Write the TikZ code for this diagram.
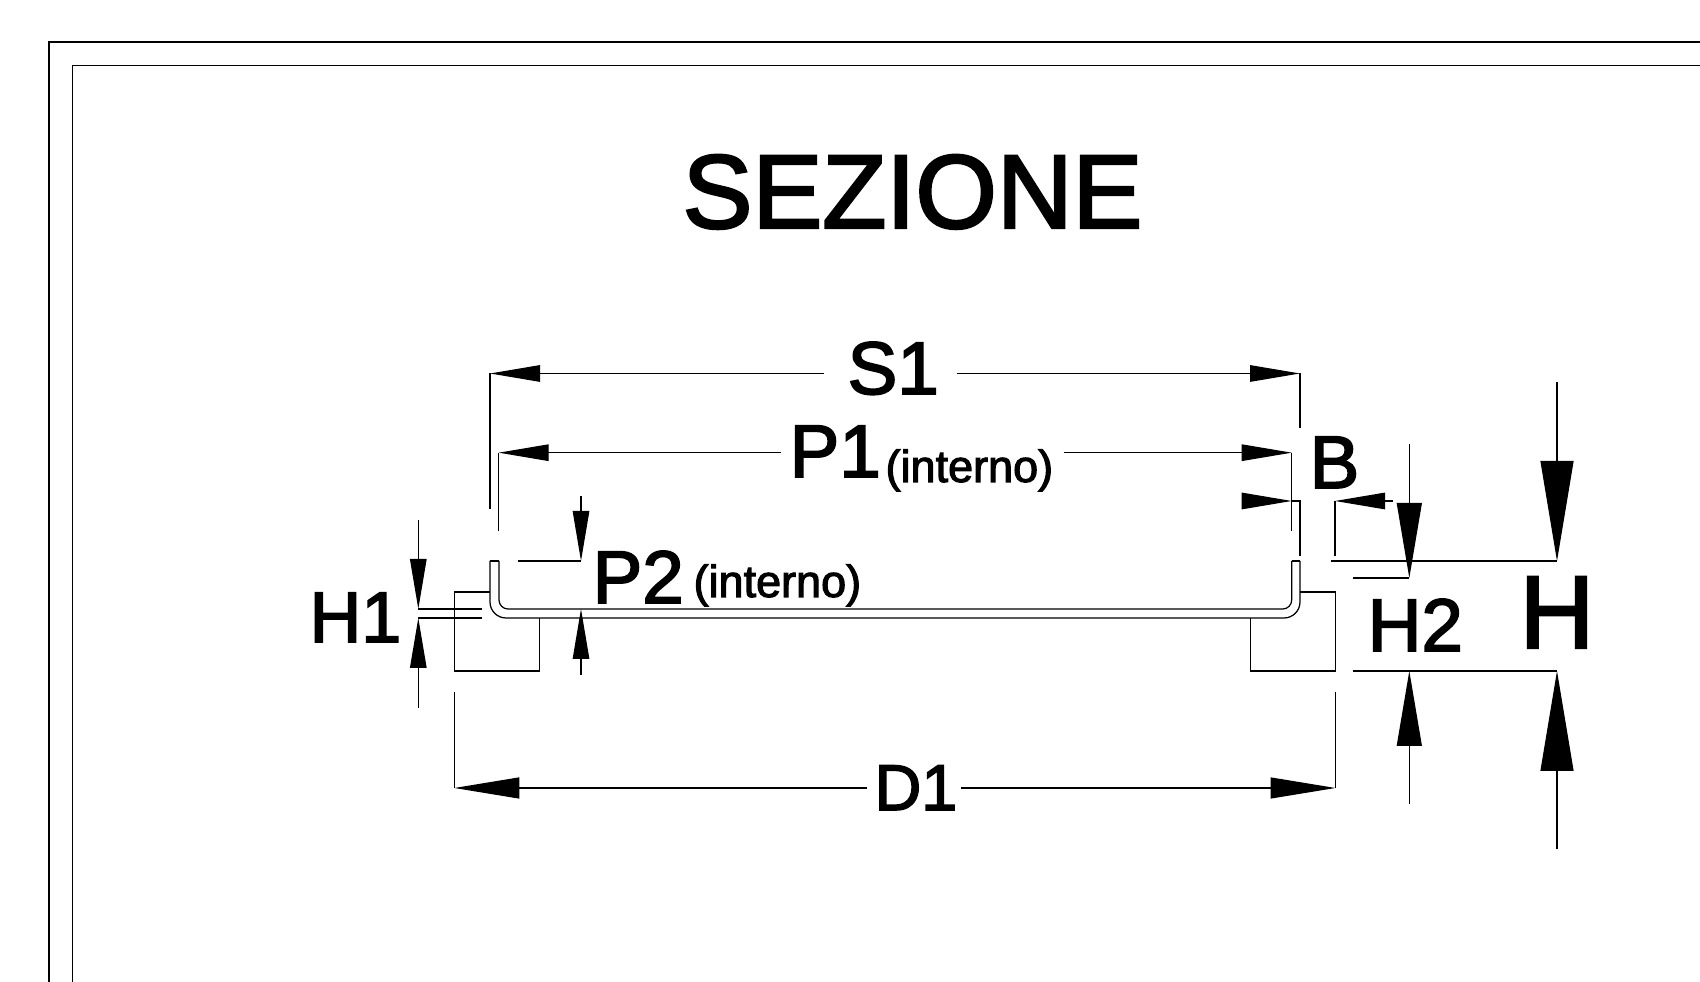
\documentclass[tikz,border=0pt]{standalone}
\usepackage{fontspec}
\setmainfont[FakeBold=2.4]{Liberation Sans}
\usetikzlibrary{arrows.meta}
\tikzset{
  thin line/.style={line width=0.35pt},
  tipbig/.style={-{Triangle[length=1cm,width=.33cm]}},
  tipmid/.style={-{Triangle[length=.75cm,width=.25cm]}},
  tipdia/.style={-{Triangle[length=.65cm,width=.21cm]}},
  tipsmall/.style={-{Triangle[length=.5cm,width=.165cm]}},
  lab/.style={inner sep=0pt,anchor=base west},
  labtitle/.style={lab,font=\fontsize{29.8}{29.8}\selectfont},
  labbig/.style={lab,font=\fontsize{29.4}{29.4}\selectfont},
  labdim/.style={lab,font=\fontsize{21.2}{21.2}\selectfont},
  labsmall/.style={lab,font=\fontsize{12.8}{12.8}\selectfont}
}
\begin{document}
\begin{tikzpicture}[thin line]
\useasboundingbox (0,0) rectangle (17,9.82);
% frame
\draw (0.49,0) -- (0.49,9.40) -- (17,9.40);
\draw (0.725,0) -- (0.725,9.165) -- (17,9.165);
\node [labtitle] (title) at (6.82,7.54) {SEZIONE};
% section
\draw [rounded corners=.16cm] (4.90,4.21) -- (4.90,3.64) -- (13.00,3.64) -- (13.00,4.21);
\draw [rounded corners=.09cm] (4.99,4.21) -- (4.99,3.73) -- (12.917,3.73) -- (12.917,4.21);
\draw (4.90,4.21) -- (4.99,4.21);
\draw (12.917,4.21) -- (13.00,4.21);
\draw (4.90,3.90) -- (4.543,3.90) -- (4.543,3.11) -- (5.393,3.11) -- (5.393,3.64);
\draw (13.00,3.90) -- (13.355,3.90) -- (13.355,3.11) -- (12.507,3.11) -- (12.507,3.64);
% S1
\node [labdim] (S1) at (8.47,5.88) {S1};
\draw (4.90,4.73) -- (4.90,6.085);
\draw (13.00,5.54) -- (13.00,6.085);
\draw [tipsmall] (8.24,6.085) -- (4.90,6.085);
\draw [tipsmall] (9.57,6.085) -- (13.00,6.085);
% P1
\node [labdim] (P1) at (7.89,5.05) {P1};
\node [labsmall] (P1int) at (8.85,5.00) {(interno)};
\draw (4.987,4.51) -- (4.987,5.293);
\draw (12.917,4.51) -- (12.917,5.293);
\draw [tipsmall] (7.81,5.293) -- (4.987,5.293);
\draw [tipsmall] (10.636,5.293) -- (12.917,5.293);
% B
\node [labdim] (B) at (13.09,4.94) {B};
\draw (13.00,4.26) -- (13.00,4.81) -- (12.917,4.81);
\draw (13.35,4.26) -- (13.35,4.81);
\draw [tipsmall] (12.42,4.81) -- (12.917,4.81);
\draw [tipsmall] (13.93,4.81) -- (13.35,4.81);
% H
\node [labbig] (H) at (15.19,3.34) {H};
\draw (13.307,4.21) -- (15.57,4.21);
\draw (13.527,3.11) -- (15.57,3.11);
\draw [tipbig] (15.57,6.00) -- (15.57,4.21);
\draw [tipbig] (15.57,1.33) -- (15.57,3.11);
% H2
\node [labdim] (H2) at (13.67,3.31) {H2};
\draw (13.527,4.04) -- (14.093,4.04);
\draw [tipmid] (14.093,5.38) -- (14.093,4.04);
\draw [tipmid] (14.093,1.775) -- (14.093,3.11);
% D1
\node [labdim,font=\fontsize{18.4}{18.4}\selectfont] (D1) at (8.74,1.72) {D1};
\draw (4.543,2.90) -- (4.543,1.94);
\draw (13.355,2.90) -- (13.355,1.94);
\draw [tipdia] (8.67,1.94) -- (4.543,1.94);
\draw [tipdia] (9.606,1.94) -- (13.355,1.94);
% H1
\node [labdim,font=\fontsize{20.4}{20.4}\selectfont] (H1) at (3.09,3.40) {H1};
\draw (4.183,3.73) -- (4.817,3.73);
\draw (4.183,3.64) -- (4.817,3.64);
\draw [tipsmall] (4.183,4.62) -- (4.183,3.73);
\draw [tipsmall] (4.183,2.74) -- (4.183,3.64);
% P2
\node [labdim] (P2) at (5.92,3.79) {P2};
\node [labsmall] (P2int) at (6.93,3.85) {(interno)};
\draw (5.177,4.21) -- (5.81,4.21);
\draw [tipsmall] (5.81,4.86) -- (5.81,4.21);
\draw [tipsmall] (5.81,3.07) -- (5.81,3.73);
\end{tikzpicture}
\end{document}
